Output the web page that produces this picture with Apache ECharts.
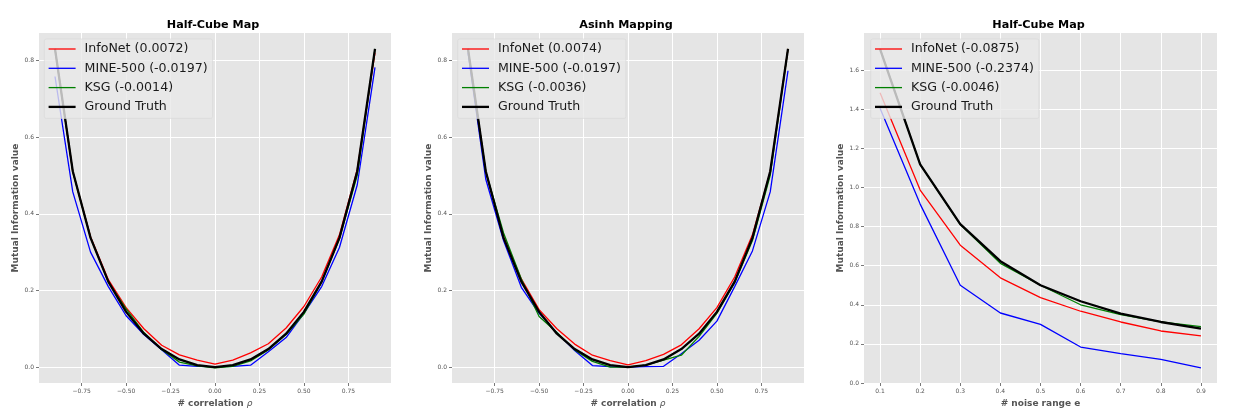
<!DOCTYPE html>
<html>
<head>
<meta charset="utf-8">
<script src="https://cdn.jsdelivr.net/npm/echarts@6/dist/echarts.min.js"></script>
<style>html,body{margin:0;padding:0;background:#fff}#c{width:1239px;height:418px}</style>
</head>
<body>
<div id="c"></div>
<script>
// ---------- data ----------
const rho = [-0.9,-0.8,-0.7,-0.6,-0.5,-0.4,-0.3,-0.2,-0.1,0,0.1,0.2,0.3,0.4,0.5,0.6,0.7,0.8,0.9];
const noise = [0.1,0.2,0.3,0.4,0.5,0.6,0.7,0.8,0.9];

const titles = ['Half-Cube Map','Asinh Mapping','Half-Cube Map'];

// Panel 1: Half-Cube Map (correlation)
const p1Names = ['InfoNet (0.0072)','MINE-500 (-0.0197)','KSG (-0.0014)','Ground Truth'];
const p1Info  = [0.83,0.51,0.34,0.228,0.155,0.100,0.057,0.032,0.018,0.008,0.018,0.037,0.061,0.102,0.158,0.235,0.345,0.515,0.82];
const p1Mine  = [0.758,0.457,0.300,0.210,0.134,0.085,0.045,0.005,0.002,0.001,0.002,0.005,0.040,0.077,0.140,0.210,0.312,0.475,0.782];
const p1Ksg   = [0.83,0.51,0.338,0.222,0.152,0.090,0.046,0.013,0.003,-0.002,0.002,0.016,0.045,0.085,0.138,0.222,0.335,0.50,0.83];
const p1Gt    = [0.830,0.511,0.337,0.223,0.144,0.087,0.047,0.020,0.005,0.000,0.005,0.020,0.047,0.087,0.144,0.223,0.337,0.511,0.830];

// Panel 2: Asinh Mapping (correlation)
const p2Names = ['InfoNet (0.0074)','MINE-500 (-0.0197)','KSG (-0.0036)','Ground Truth'];
const p2Info  = [0.83,0.51,0.34,0.23,0.150,0.100,0.060,0.031,0.017,0.006,0.017,0.033,0.058,0.100,0.155,0.235,0.345,0.51,0.83];
const p2Mine  = [0.82,0.49,0.33,0.208,0.140,0.090,0.043,0.004,0.001,0.000,0.001,0.002,0.035,0.070,0.120,0.210,0.303,0.457,0.773];
const p2Ksg   = [0.83,0.51,0.35,0.23,0.132,0.090,0.045,0.015,0.000,0.000,0.005,0.018,0.031,0.080,0.140,0.220,0.330,0.50,0.83];
const p2Gt    = [0.830,0.511,0.337,0.223,0.144,0.087,0.047,0.020,0.005,0.000,0.005,0.020,0.047,0.087,0.144,0.223,0.337,0.511,0.830];

// Panel 3: Half-Cube Map (noise range)
const p3Names = ['InfoNet (-0.0875)','MINE-500 (-0.2374)','KSG (-0.0046)','Ground Truth'];
const p3Info  = [1.485,0.987,0.705,0.538,0.437,0.367,0.312,0.266,0.241];
const p3Mine  = [1.405,0.915,0.500,0.358,0.300,0.184,0.150,0.121,0.077];
const p3Ksg   = [1.71,1.118,0.810,0.612,0.500,0.400,0.350,0.313,0.288];
const p3Gt    = [1.707,1.118,0.813,0.623,0.500,0.418,0.355,0.312,0.278];

const rhoTicks = [-0.75,-0.5,-0.25,0,0.25,0.5,0.75];
const miTicks12 = [0,0.2,0.4,0.6,0.8];
const miTicks3 = [0,0.2,0.4,0.6,0.8,1.0,1.2,1.4,1.6];
const noiseTicks = [0.1,0.2,0.3,0.4,0.5,0.6,0.7,0.8,0.9];

// ---------- layout ----------
const FONT = 'DejaVu Sans';
const grids = [
  {left:39, top:33, width:352, height:350},
  {left:452, top:33, width:352, height:350},
  {left:864, top:33, width:353, height:350}
];
const colors = ['#ff0000','#0000ff','#008000','#000000'];
const widths = [1.3,1.3,1.3,2.3];

function fmt(d){ return function(v){ return v.toFixed(d).replace('-','\u2212'); }; }

function xAxis(i, min, max, ticks, dec){
  return {
    type:'value', gridIndex:i, min:min, max:max,
    name: i < 2 ? '# correlation {it|ρ}' : '# noise range e',
    nameLocation:'middle', nameGap:14,
    nameTextStyle:{fontFamily:FONT, fontSize:9, fontWeight:'bold', color:'#555',
      rich:{it:{fontFamily:FONT, fontSize:9, fontStyle:'italic', fontWeight:'normal', color:'#555'}}},
    axisLine:{show:false, onZero:false},
    axisTick:{show:true, length:3, lineStyle:{color:'#555', width:0.8}, customValues:ticks},
    axisLabel:{customValues:ticks, formatter:fmt(dec), fontFamily:FONT, fontSize:6, color:'#555', margin:5},
    splitLine:{show:true, lineStyle:{color:'#ffffff', width:1}}
  };
}
function yAxis(i, min, max, ticks){
  return {
    type:'value', gridIndex:i, min:min, max:max,
    name:'Mutual Information value', nameLocation:'middle', nameGap:18.5, nameRotate:90,
    nameTextStyle:{fontFamily:FONT, fontSize:9, fontWeight:'bold', color:'#555'},
    axisLine:{show:false, onZero:false},
    axisTick:{show:true, length:3, lineStyle:{color:'#555', width:0.8}, customValues:ticks},
    axisLabel:{customValues:ticks, formatter:fmt(1), fontFamily:FONT, fontSize:6, color:'#555', margin:5},
    splitLine:{show:true, lineStyle:{color:'#ffffff', width:1}}
  };
}

function mkSeries(i, xs, ys, names){
  return ys.map(function(arr, k){
    return {
      type:'line', name:names[k], xAxisIndex:i, yAxisIndex:i,
      data: xs.map(function(x, j){ return [x, arr[j]]; }),
      symbol:'none', smooth:false,
      lineStyle:{color:colors[k], width:widths[k]},
      itemStyle:{color:colors[k]}
    };
  });
}

function legend(i, left, names){
  return {
    left:left, top:39, orient:'vertical', z:10,
    data: names.map(function(n, k){
      return {name:n, icon:'path://M0,0h27v' + widths[k] + 'h-27z'};
    }),
    itemWidth:27, itemHeight:14, itemGap:5.3, symbolKeepAspect:true,
    padding:[3,5,4.5,4.3],
    backgroundColor:'rgba(232,232,232,0.8)', borderColor:'rgba(215,215,215,0.8)', borderWidth:0.8, borderRadius:2,
    textStyle:{fontFamily:FONT, fontSize:12.6, color:'#1a1a1a', lineHeight:14, padding:[0,0,0,4]},
    selectedMode:false
  };
}

const option = {
  animation:false,
  backgroundColor:'#ffffff',
  title: titles.map(function(t, i){
    return {text:t, left: grids[i].left + grids[i].width/2 - 2, top:20, textAlign:'center', padding:0,
      textStyle:{fontFamily:FONT, fontSize:11.2, fontWeight:'bold', color:'#000'}};
  }),
  grid: grids.map(function(g){ return Object.assign({backgroundColor:'#e5e5e5', show:true, borderWidth:0, containLabel:false}, g); }),
  xAxis:[
    xAxis(0, -0.99, 0.99, rhoTicks, 2),
    xAxis(1, -0.99, 0.99, rhoTicks, 2),
    xAxis(2, 0.06, 0.94, noiseTicks, 1)
  ],
  yAxis:[
    yAxis(0, -0.0415, 0.8715, miTicks12),
    yAxis(1, -0.0415, 0.8715, miTicks12),
    yAxis(2, 0, 1.79, miTicks3)
  ],
  legend:[
    legend(0, 44.3, p1Names),
    legend(1, 457.7, p2Names),
    legend(2, 870.7, p3Names)
  ],
  series: [].concat(
    mkSeries(0, rho, [p1Info,p1Mine,p1Ksg,p1Gt], p1Names),
    mkSeries(1, rho, [p2Info,p2Mine,p2Ksg,p2Gt], p2Names),
    mkSeries(2, noise, [p3Info,p3Mine,p3Ksg,p3Gt], p3Names)
  )
};
const chart = echarts.init(document.getElementById('c'), null, {renderer:'canvas'});
chart.setOption(option);
</script>
</body>
</html>
